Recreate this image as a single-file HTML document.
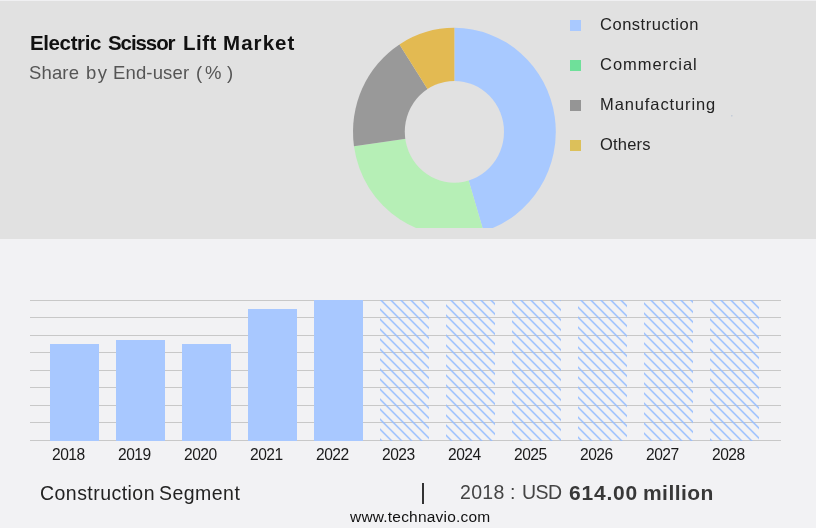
<!DOCTYPE html>
<html><head><meta charset="utf-8">
<style>
html,body{margin:0;padding:0;width:816px;height:528px;overflow:hidden;background:#f2f2f4;}
body{position:relative;font-family:"Liberation Sans",sans-serif;}
.top{position:absolute;left:0;top:1px;width:816px;height:238px;background:#e1e1e1;}
.topline{position:absolute;left:0;top:0;width:816px;height:1px;background:#f0f0f2;}
.t{position:absolute;white-space:nowrap;line-height:1;will-change:transform;}
svg{position:absolute;left:0;top:0;}
</style></head><body>
<div class="topline"></div>
<div class="top"></div>
<svg width="816" height="528" viewBox="0 0 816 528">
<defs><clipPath id="dclip"><rect x="0" y="0" width="816" height="228"/></clipPath><pattern id="h5" patternUnits="userSpaceOnUse" x="0.8" y="0" width="10" height="10"><path d="M-1,-1 L11,11 M-11,-1 L1,11 M9,-1 L21,11" stroke="#94bcff" stroke-width="1.4"/></pattern><pattern id="h6" patternUnits="userSpaceOnUse" x="0.8" y="0" width="10" height="10"><path d="M-1,-1 L11,11 M-11,-1 L1,11 M9,-1 L21,11" stroke="#94bcff" stroke-width="1.4"/></pattern><pattern id="h7" patternUnits="userSpaceOnUse" x="0.8" y="0" width="10" height="10"><path d="M-1,-1 L11,11 M-11,-1 L1,11 M9,-1 L21,11" stroke="#94bcff" stroke-width="1.4"/></pattern><pattern id="h8" patternUnits="userSpaceOnUse" x="0.8" y="0" width="10" height="10"><path d="M-1,-1 L11,11 M-11,-1 L1,11 M9,-1 L21,11" stroke="#94bcff" stroke-width="1.4"/></pattern><pattern id="h9" patternUnits="userSpaceOnUse" x="0.8" y="0" width="10" height="10"><path d="M-1,-1 L11,11 M-11,-1 L1,11 M9,-1 L21,11" stroke="#94bcff" stroke-width="1.4"/></pattern><pattern id="h10" patternUnits="userSpaceOnUse" x="0.8" y="0" width="10" height="10"><path d="M-1,-1 L11,11 M-11,-1 L1,11 M9,-1 L21,11" stroke="#94bcff" stroke-width="1.4"/></pattern></defs>
<g clip-path="url(#dclip)"><g transform="translate(454.4,131.8) scale(1,1.025)"><path d="M0,0 L0.000,-101.400 A101.4,101.4 0 0 1 29.138,97.123 Z" fill="#a8c9ff"/><path d="M0,0 L29.138,97.123 A101.4,101.4 0 0 1 -100.413,14.112 Z" fill="#b6efb6"/><path d="M0,0 L-100.413,14.112 A101.4,101.4 0 0 1 -54.929,-85.233 Z" fill="#999999"/><path d="M0,0 L-54.929,-85.233 A101.4,101.4 0 0 1 -0.000,-101.400 Z" fill="#e3ba52"/><circle cx="0" cy="0" r="49.6" fill="#e1e1e1"/></g></g>
<rect x="570" y="20" width="11" height="11" fill="#a9c9ff"/>
<rect x="570" y="60" width="11" height="11" fill="#6fe09a"/>
<rect x="570" y="100" width="11" height="11" fill="#959595"/>
<rect x="570" y="140" width="11" height="11" fill="#dcc05a"/>
<g fill="#c8c8c8"><rect x="30" y="300" width="751" height="1"/><rect x="30" y="317" width="751" height="1"/><rect x="30" y="335" width="751" height="1"/><rect x="30" y="352" width="751" height="1"/><rect x="30" y="370" width="751" height="1"/><rect x="30" y="387" width="751" height="1"/><rect x="30" y="405" width="751" height="1"/><rect x="30" y="422" width="751" height="1"/><rect x="30" y="440" width="751" height="1"/></g>
<rect x="50" y="344" width="49" height="97" fill="#a8c8ff"/><rect x="116" y="340" width="49" height="101" fill="#a8c8ff"/><rect x="182" y="344" width="49" height="97" fill="#a8c8ff"/><rect x="248" y="309" width="49" height="132" fill="#a8c8ff"/><rect x="314" y="300" width="49" height="141" fill="#a8c8ff"/><rect x="380" y="300" width="49" height="141" fill="url(#h5)"/><rect x="446" y="300" width="49" height="141" fill="url(#h6)"/><rect x="512" y="300" width="49" height="141" fill="url(#h7)"/><rect x="578" y="300" width="49" height="141" fill="url(#h8)"/><rect x="644" y="300" width="49" height="141" fill="url(#h9)"/><rect x="710" y="300" width="49" height="141" fill="url(#h10)"/>
<rect x="422" y="483" width="2" height="21" fill="#333"/>
<rect x="731" y="115" width="1.5" height="1.5" fill="#b9c4d6" opacity="0.7"/>
</svg>
<div class="t" style="left:51.90px;top:446.99px;font-size:15.6px;letter-spacing:-0.5px;color:#1a1a1a;">2018</div>
<div class="t" style="left:117.90px;top:446.99px;font-size:15.6px;letter-spacing:-0.5px;color:#1a1a1a;">2019</div>
<div class="t" style="left:183.90px;top:446.99px;font-size:15.6px;letter-spacing:-0.5px;color:#1a1a1a;">2020</div>
<div class="t" style="left:249.90px;top:446.99px;font-size:15.6px;letter-spacing:-0.5px;color:#1a1a1a;">2021</div>
<div class="t" style="left:315.90px;top:446.99px;font-size:15.6px;letter-spacing:-0.5px;color:#1a1a1a;">2022</div>
<div class="t" style="left:381.90px;top:446.99px;font-size:15.6px;letter-spacing:-0.5px;color:#1a1a1a;">2023</div>
<div class="t" style="left:447.90px;top:446.99px;font-size:15.6px;letter-spacing:-0.5px;color:#1a1a1a;">2024</div>
<div class="t" style="left:513.90px;top:446.99px;font-size:15.6px;letter-spacing:-0.5px;color:#1a1a1a;">2025</div>
<div class="t" style="left:579.90px;top:446.99px;font-size:15.6px;letter-spacing:-0.5px;color:#1a1a1a;">2026</div>
<div class="t" style="left:645.90px;top:446.99px;font-size:15.6px;letter-spacing:-0.5px;color:#1a1a1a;">2027</div>
<div class="t" style="left:711.90px;top:446.99px;font-size:15.6px;letter-spacing:-0.5px;color:#1a1a1a;">2028</div>
<div class="t" style="left:29.80px;top:32.65px;font-size:20.5px;font-weight:bold;letter-spacing:-0.386px;color:#111;">Electric</div>
<div class="t" style="left:108.00px;top:32.65px;font-size:20.5px;font-weight:bold;letter-spacing:-1.083px;color:#111;">Scissor</div>
<div class="t" style="left:182.60px;top:32.65px;font-size:20.5px;font-weight:bold;letter-spacing:0.467px;color:#111;">Lift</div>
<div class="t" style="left:222.70px;top:32.65px;font-size:20.5px;font-weight:bold;letter-spacing:1.06px;color:#111;">Market</div>
<div class="t" style="left:29.40px;top:64.14px;font-size:18.5px;letter-spacing:0.15px;color:#555;">Share</div>
<div class="t" style="left:86.30px;top:64.14px;font-size:18.5px;letter-spacing:1.5px;color:#555;">by</div>
<div class="t" style="left:113.30px;top:64.14px;font-size:18.5px;letter-spacing:0.143px;color:#555;">End-user</div>
<div class="t" style="left:196.40px;top:64.14px;font-size:18.5px;color:#555;">(</div>
<div class="t" style="left:205.40px;top:64.14px;font-size:18.5px;color:#555;">%</div>
<div class="t" style="left:227.00px;top:64.14px;font-size:18.5px;color:#555;">)</div>
<div class="t" style="left:599.70px;top:16.13px;font-size:16.5px;letter-spacing:0.518px;color:#222;">Construction</div>
<div class="t" style="left:599.70px;top:56.23px;font-size:16.5px;letter-spacing:0.967px;color:#222;">Commercial</div>
<div class="t" style="left:599.60px;top:96.23px;font-size:16.5px;letter-spacing:0.892px;color:#222;">Manufacturing</div>
<div class="t" style="left:599.70px;top:136.23px;font-size:16.5px;letter-spacing:0.2px;color:#222;">Others</div>
<div class="t" style="left:39.90px;top:484.49px;font-size:19.5px;letter-spacing:0.455px;color:#222;">Construction</div>
<div class="t" style="left:158.60px;top:484.49px;font-size:19.5px;letter-spacing:0.467px;color:#222;">Segment</div>
<div class="t" style="left:459.60px;top:483.09px;font-size:19.5px;letter-spacing:0.333px;color:#444;">2018</div>
<div class="t" style="left:509.60px;top:483.09px;font-size:19.5px;color:#444;">:</div>
<div class="t" style="left:522.20px;top:483.09px;font-size:19.5px;letter-spacing:-0.6px;color:#444;">USD</div>
<div class="t" style="left:569.00px;top:482.22px;font-size:21px;font-weight:bold;letter-spacing:0.8px;color:#383838;">614.00</div>
<div class="t" style="left:643.10px;top:482.22px;font-size:21px;font-weight:bold;letter-spacing:0.45px;color:#383838;">million</div>
<div class="t" style="left:350.20px;top:508.58px;font-size:15.5px;letter-spacing:0.2px;color:#111;">www.technavio.com</div>

</body></html>
